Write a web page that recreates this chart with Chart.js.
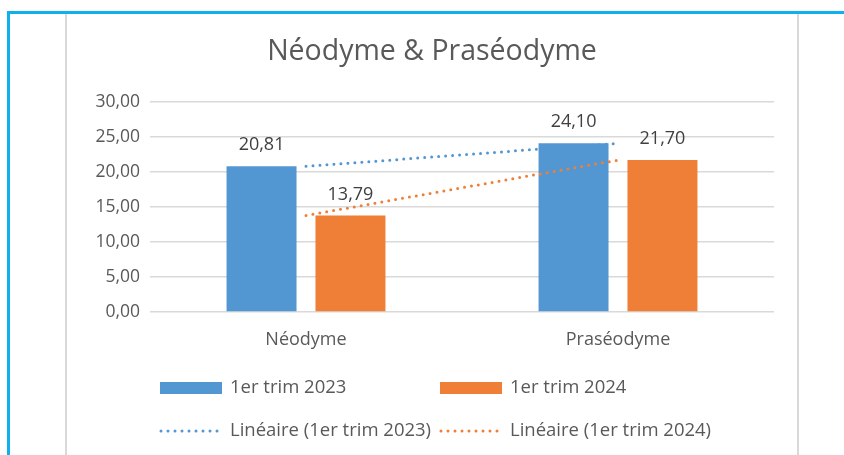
<!DOCTYPE html>
<html>
<head>
<meta charset="utf-8">
<script src="https://cdn.jsdelivr.net/npm/chart.js@4"></script>
<style>
  body { margin: 0; background: #fff; }
  #wrap { position: relative; width: 844px; height: 455px; overflow: hidden; }
  .frame { position: absolute; }
  #top { left: 7px; top: 11px; width: 837px; height: 3px; background: #0fb0ee; }
  #left { left: 7px; top: 11px; width: 3px; height: 444px; background: #0fb0ee; }
  #g1 { left: 65px; top: 14px; width: 2px; height: 441px; background: #d9d9d9; }
  #g2 { left: 797px; top: 14px; width: 2px; height: 441px; background: #d9d9d9; }
  canvas { position: absolute; left: 0; top: 0; }
</style>
</head>
<body>
<div id="wrap">
  <div class="frame" id="top"></div>
  <div class="frame" id="left"></div>
  <div class="frame" id="g1"></div>
  <div class="frame" id="g2"></div>
  <canvas id="chart" width="844" height="455"></canvas>
</div>
<script>
  var categories = ['Néodyme', 'Praséodyme'];
  var trim2023 = [20.81, 24.10];
  var trim2024 = [13.79, 21.70];
  var seriesNames = ['1er trim 2023', '1er trim 2024'];
  var chartTitle = 'Néodyme & Praséodyme';

  var blue = '#5397d2';
  var orange = '#ef7f37';
  var textColor = '#595959';
  var fontFamily = '"Open Sans", "Noto Sans", sans-serif';

  function fmt(v) {
    return v.toFixed(2).replace('.', ',');
  }

  // least squares trend, like Excel's "Linéaire"
  function linearTrend(values) {
    var n = values.length, sx = 0, sy = 0, sxy = 0, sxx = 0;
    for (var i = 0; i < n; i++) {
      var x = i + 1;
      sx += x; sy += values[i]; sxy += x * values[i]; sxx += x * x;
    }
    var slope = (n * sxy - sx * sy) / (n * sxx - sx * sx);
    var icpt = (sy - slope * sx) / n;
    return values.map(function (v, i) { return icpt + slope * (i + 1); });
  }

  var decorPlugin = {
    id: 'decor',
    afterDatasetsDraw: function (chart) {
      var ctx = chart.ctx;
      ctx.save();
      // value labels over the bars
      ctx.fillStyle = '#404040';
      ctx.font = '18px ' + fontFamily;
      ctx.textAlign = 'center';
      ctx.textBaseline = 'middle';
      chart.data.datasets.forEach(function (ds, di) {
        if (ds.type === 'line') return;
        chart.getDatasetMeta(di).data.forEach(function (el, i) {
          ctx.fillText(fmt(ds.data[i]), el.x, el.y - 21);
        });
      });
      // title
      ctx.fillStyle = textColor;
      ctx.font = '28.5px ' + fontFamily;
      ctx.fillText(chartTitle, 432, 52);

      // legend, 2 x 2 grid
      ctx.font = '18.5px ' + fontFamily;
      ctx.textAlign = 'left';
      var cols = [160, 440];
      var rows = [388, 431];
      chart.data.datasets.forEach(function (ds, di) {
        var col = cols[di % 2];
        var row = rows[ds.type === 'line' ? 1 : 0];
        if (ds.type === 'line') {
          ctx.strokeStyle = ds.borderColor;
          ctx.lineWidth = 3;
          ctx.lineCap = 'round';
          ctx.setLineDash([0, 7]);
          ctx.beginPath();
          ctx.moveTo(col + 1, row);
          ctx.lineTo(col + 62, row);
          ctx.stroke();
          ctx.setLineDash([]);
        } else {
          ctx.fillStyle = ds.backgroundColor;
          ctx.fillRect(col, row - 6, 62, 12);
        }
        ctx.fillStyle = textColor;
        ctx.fillText(ds.label, col + 70, row);
      });
      ctx.restore();
    }
  };

  var ctx = document.getElementById('chart').getContext('2d');
  var chart = new Chart(ctx, {
    type: 'bar',
    data: {
      labels: categories,
      datasets: [
        { label: seriesNames[0], data: trim2023, backgroundColor: blue, order: 2 },
        { label: seriesNames[1], data: trim2024, backgroundColor: orange, order: 2 },
        {
          type: 'line', label: 'Linéaire (' + seriesNames[0] + ')', data: linearTrend(trim2023),
          borderColor: blue, borderWidth: 3, borderDash: [0, 7], borderCapStyle: 'round',
          pointRadius: 0, fill: false, order: 1
        },
        {
          type: 'line', label: 'Linéaire (' + seriesNames[1] + ')', data: linearTrend(trim2024),
          borderColor: orange, borderWidth: 3, borderDash: [0, 7], borderCapStyle: 'round',
          pointRadius: 0, fill: false, order: 1
        }
      ]
    },
    options: {
      responsive: false,
      animation: false,
      categoryPercentage: 0.57,
      barPercentage: 0.787,
      layout: { padding: { left: 0, right: 70, top: 102, bottom: 83 } },
      plugins: {
        legend: { display: false },
        title: { display: false },
        tooltip: { enabled: false }
      },
      scales: {
        x: {
          grid: { display: false, drawTicks: false },
          border: { display: false },
          ticks: { color: textColor, font: { family: fontFamily, size: 18 }, padding: 17 },
          afterFit: function (s) { s.height = 60; }
        },
        y: {
          min: 0, max: 30,
          grid: { color: '#d9d9d9', lineWidth: 1.5, drawTicks: false },
          border: { display: false },
          ticks: {
            stepSize: 5, color: textColor, padding: 10,
            font: { family: fontFamily, size: 17.5 },
            callback: function (v) { return fmt(v); }
          },
          afterFit: function (s) { s.width = 150; }
        }
      }
    },
    plugins: [decorPlugin]
  });
</script>
</body>
</html>
